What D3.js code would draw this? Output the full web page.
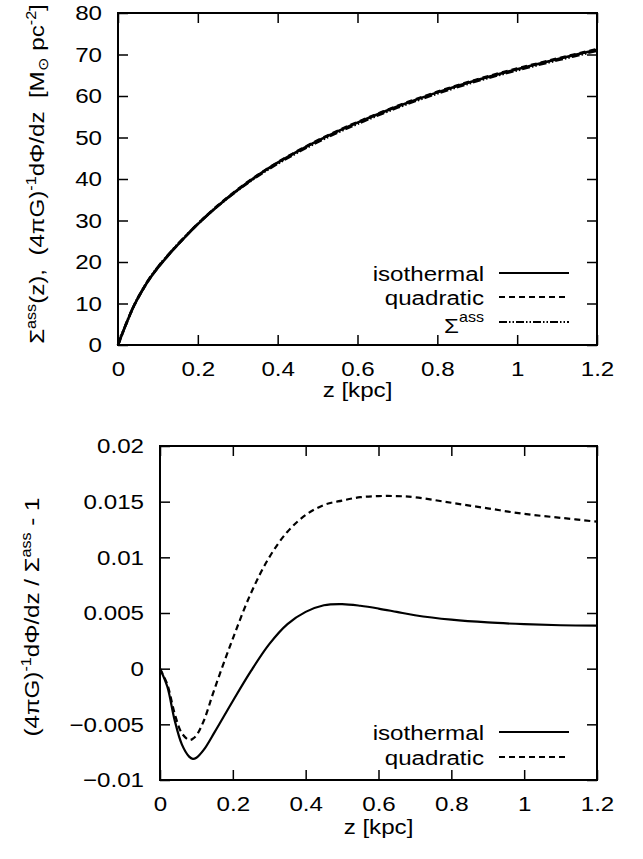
<!DOCTYPE html>
<html>
<head>
<meta charset="utf-8">
<script src="https://cdn.jsdelivr.net/npm/d3@7"></script>
<style>
  body { margin: 0; background: #fff; }
  text { font-family: "Liberation Sans", Arial, Helvetica, sans-serif; fill: #000; white-space: pre; }
</style>
</head>
<body>
<script>
// top panel: surface density vs height
var zTop = [0, 0.02, 0.04, 0.06, 0.08, 0.1, 0.12, 0.15, 0.2, 0.25, 0.3, 0.35, 0.4, 0.45, 0.5, 0.55, 0.6, 0.7, 0.8, 0.9, 1.0, 1.1, 1.2];
var sigmaAss = [0, 5.0, 9.5, 13.1, 16.2, 18.8, 21.1, 24.3, 29.2, 33.5, 37.3, 40.7, 43.7, 46.4, 48.9, 51.2, 53.3, 57.2, 60.6, 63.6, 66.2, 68.6, 70.9];
var topIso   = [0, 4.99, 9.46, 13.01, 16.07, 18.65, 20.95, 24.16, 29.12, 33.49, 37.38, 40.86, 43.92, 46.66, 49.18, 51.49, 53.59, 57.47, 60.87, 63.86, 66.46, 68.87, 71.17];
var topQuad  = [0, 4.99, 9.46, 13.02, 16.1, 18.69, 21.0, 24.22, 29.2, 33.6, 37.5, 40.95, 44.0, 46.75, 49.3, 51.6, 53.7, 57.6, 61.0, 64.0, 66.6, 69.0, 71.3];

// bottom panel: relative deviation
var zBot = [0, 0.02, 0.04, 0.06, 0.08, 0.09, 0.1, 0.12, 0.15, 0.2, 0.25, 0.3, 0.35, 0.4, 0.45, 0.5, 0.55, 0.6, 0.65, 0.7, 0.8, 0.9, 1.0, 1.1, 1.2];
var devIso  = [0, -0.0016, -0.0046, -0.0068, -0.0079, -0.0081, -0.0080, -0.0073, -0.0057, -0.0029, -0.0002, 0.0022, 0.0040, 0.0051, 0.0057, 0.0058, 0.00565, 0.0054, 0.0051, 0.0048, 0.0044, 0.00415, 0.0040, 0.0039, 0.00386];
var devQuad = [0, -0.0014, -0.0040, -0.0058, -0.0064, -0.0063, -0.0060, -0.0047, -0.0018, 0.0027, 0.0068, 0.0100, 0.0123, 0.0138, 0.0147, 0.0151, 0.0154, 0.0155, 0.0155, 0.0154, 0.0149, 0.0144, 0.0139, 0.01355, 0.0132];

var xTicks = [0, 0.2, 0.4, 0.6, 0.8, 1, 1.2];
var yTicksTop = [0, 10, 20, 30, 40, 50, 60, 70, 80];
var yTicksBot = [-0.01, -0.005, 0, 0.005, 0.01, 0.015, 0.02];

var width = 643, height = 859;
var fs = 21, fsSup = 14, sx = 1.15; // font is drawn a bit wider than Liberation Sans
var svg = d3.select("body").append("svg")
    .attr("width", width)
    .attr("height", height);
svg.append("rect").attr("width", width).attr("height", height).attr("fill", "#fff");

function stretch(sel) {
    sel.each(function() {
        var t = d3.select(this);
        var x = +t.attr("x") || 0;
        t.attr("x", x / sx).attr("transform", "scale(" + sx + ",1)");
    });
}

function drawPanel(box, yDomain, labelOffset) {
    var x = d3.scaleLinear().domain([0, 1.2]).range([box.left, box.right]);
    var y = d3.scaleLinear().domain(yDomain).range([box.bottom, box.top]);
    var g = svg.append("g");

    var ax = [
        {axis: d3.axisBottom(x).tickValues(xTicks).tickFormat(d3.format("")), t: "translate(0," + box.bottom + ")"},
        {axis: d3.axisTop(x).tickValues(xTicks).tickFormat(""), t: "translate(0," + box.top + ")"},
        {axis: d3.axisLeft(y).tickValues(box.yt).tickFormat(d3.format("")), t: "translate(" + box.left + ",0)"},
        {axis: d3.axisRight(y).tickValues(box.yt).tickFormat(""), t: "translate(" + box.right + ",0)"}
    ];
    ax.forEach(function(a, i) {
        var sel = g.append("g")
            .attr("transform", a.t)
            .call(a.axis.tickSizeInner(-10).tickSizeOuter(0).tickPadding(i == 0 ? 16 : 16));
        sel.attr("font-size", fs).attr("font-family", null);
        sel.select(".domain").remove();
        sel.selectAll("line").attr("stroke", "#000").attr("stroke-width", 1.5);
        stretch(sel.selectAll("text"));
    });
    g.append("rect")
        .attr("x", box.left).attr("y", box.top)
        .attr("width", box.right - box.left).attr("height", box.bottom - box.top)
        .attr("fill", "none").attr("stroke", "#000").attr("stroke-width", 2);

    g.append("text")
        .attr("transform", "translate(" + (box.left + box.right) / 2 + "," + (box.bottom + labelOffset) + ") scale(" + sx + ",1)")
        .attr("text-anchor", "middle")
        .attr("font-size", fs)
        .text("z [kpc]");
    return {x: x, y: y};
}

function drawLine(sc, xs, ys, dash, w) {
    var line = d3.line()
        .x(function(d) { return sc.x(d[0]); })
        .y(function(d) { return sc.y(d[1]); })
        .curve(d3.curveCatmullRom);
    svg.append("path")
        .datum(xs.map(function(v, i) { return [v, ys[i]]; }))
        .attr("d", line)
        .attr("fill", "none")
        .attr("stroke", "#000")
        .attr("stroke-width", w)
        .attr("stroke-dasharray", dash);
}

function legendRow(yLine, label, dash, sup) {
    svg.append("line")
        .attr("x1", 499).attr("x2", 569)
        .attr("y1", yLine).attr("y2", yLine)
        .attr("stroke", "#000").attr("stroke-width", 2)
        .attr("stroke-dasharray", dash);
    var t = svg.append("text")
        .attr("transform", "translate(484," + (yLine + (sup ? 11 : 8)) + ") scale(" + sx + ",1)")
        .attr("text-anchor", "end")
        .attr("font-size", fs);
    t.append("tspan").text(label);
    if (sup) t.append("tspan").attr("dy", -11).attr("font-size", fsSup).text(sup);
}

function yLabel(x, y) {
    return svg.append("text")
        .attr("transform", "translate(" + x + "," + y + ") rotate(-90) scale(" + sx + ",1)")
        .attr("text-anchor", "middle")
        .attr("font-size", fs);
}

// ---- top panel
var topSc = drawPanel({left: 118, right: 597, top: 13, bottom: 345, yt: yTicksTop}, [0, 80], 52);
drawLine(topSc, zTop, topIso, null, 2.6);
drawLine(topSc, zTop, topQuad, "6,4", 2.6);
drawLine(topSc, zTop, sigmaAss, "8,2,1.5,2,1.5,2", 2.6);

legendRow(273, "isothermal", null);
legendRow(297, "quadratic", "6,4");
legendRow(322, "Σ", "8,2,1.5,2,1.5,2", "ass");

var yl1 = yLabel(44, 174);
yl1.append("tspan").text("Σ");
yl1.append("tspan").attr("dy", -8).attr("font-size", fsSup).text("ass");
yl1.append("tspan").attr("dy", 8).text("(z),  (4πG)");
yl1.append("tspan").attr("dy", -8).attr("font-size", fsSup).text("-1");
yl1.append("tspan").attr("dy", 8).text("dΦ/dz  [M");
yl1.append("tspan").attr("dy", 4).attr("font-size", fsSup).text("⊙");
yl1.append("tspan").attr("dy", -4).text(" pc");
yl1.append("tspan").attr("dy", -8).attr("font-size", fsSup).text("-2");
yl1.append("tspan").attr("dy", 8).text("]");

// ---- bottom panel
var botSc = drawPanel({left: 160, right: 597, top: 446, bottom: 780, yt: yTicksBot}, [-0.01, 0.02], 54);
drawLine(botSc, zBot, devIso, null, 2.2);
drawLine(botSc, zBot, devQuad, "6,4", 2.2);

legendRow(732, "isothermal", null);
legendRow(757, "quadratic", "6,4");

var yl2 = yLabel(39, 617);
yl2.append("tspan").text("(4πG)");
yl2.append("tspan").attr("dy", -8).attr("font-size", fsSup).text("-1");
yl2.append("tspan").attr("dy", 8).text("dΦ/dz / Σ");
yl2.append("tspan").attr("dy", -8).attr("font-size", fsSup).text("ass");
yl2.append("tspan").attr("dy", 8).text(" - 1");
</script>
</body>
</html>
